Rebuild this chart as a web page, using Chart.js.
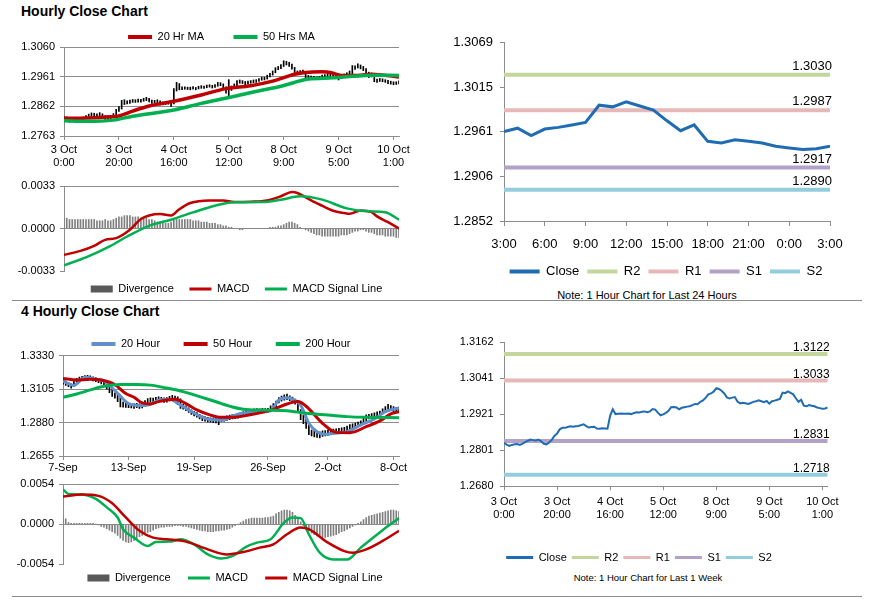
<!DOCTYPE html>
<html><head><meta charset="utf-8">
<script src="https://cdn.jsdelivr.net/npm/chart.js@4.4.1/dist/chart.umd.min.js"></script>
<style>
html,body{margin:0;padding:0;background:#fff;}
body{width:873px;height:601px;position:relative;overflow:hidden;font-family:"Liberation Sans",Arial,sans-serif;}
canvas{position:absolute;}
.ttl{position:absolute;left:21px;font-weight:bold;font-size:14px;line-height:14px;color:#000;white-space:nowrap;}
.sep{position:absolute;left:12px;width:850px;height:1px;background:#8c8c8c;}
.note{position:absolute;white-space:nowrap;color:#000;transform:translateX(-50%);line-height:14px;}
</style></head><body>
<div class="ttl" style="top:4px">Hourly Close Chart</div>
<div class="ttl" style="top:304px">4 Hourly Close Chart</div>
<div class="sep" style="top:300px"></div>
<div class="sep" style="top:596px"></div>
<div class="note" style="left:647px;top:288px;font-size:11px;">Note: 1 Hour Chart for Last 24 Hours</div>
<div class="note" style="left:648px;top:571px;font-size:9.5px;">Note: 1 Hour Chart for Last 1 Week</div>
<canvas id="cA" width="428" height="166" style="left:0;top:2px;width:428px;height:166px"></canvas>
<canvas id="cAm" width="459" height="133" style="left:0;top:172px;width:459px;height:133px"></canvas>
<canvas id="cB" width="450" height="260" style="left:430px;top:28px;width:450px;height:260px"></canvas>
<canvas id="cC" width="428" height="159" style="left:0;top:315px;width:428px;height:159px"></canvas>
<canvas id="cCm" width="456" height="122" style="left:0;top:472px;width:456px;height:122px"></canvas>
<canvas id="cD" width="443" height="245" style="left:430px;top:328px;width:443px;height:245px"></canvas>
<script>
// ---------------- DATA ----------------
const hourTickIdx = [0, 20, 40, 60, 80, 100, 120];
const hourTickLabels = [['3 Oct','0:00'],['3 Oct','20:00'],['4 Oct','16:00'],['5 Oct','12:00'],['8 Oct','9:00'],['9 Oct','5:00'],['10 Oct','1:00']];
const hourPriceTicks = [1.2763, 1.2862, 1.2961, 1.3060];
const hourMacdTicks = [-0.0033, 0.0000, 0.0033];

const hourlyClose = [
1.2825,1.2819,1.2815,1.2818,1.2820,1.2821,1.2818,1.2822,1.2827,1.2832,
1.2836,1.2834,1.2833,1.2836,1.2830,1.2822,1.2820,1.2826,1.2835,1.2848,
1.2856,1.2870,1.2875,1.2875,1.2878,1.2880,1.2879,1.2880,1.2881,1.2884,
1.2887,1.2881,1.2876,1.2878,1.2879,1.2873,1.2872,1.2874,1.2873,1.2872,
1.2915,1.2937,1.2921,1.2922,1.2923,1.2922,1.2922,1.2923,1.2921,1.2925,
1.2927,1.2926,1.2929,1.2930,1.2927,1.2930,1.2938,1.2936,1.2926,1.2917,
1.2920,1.2925,1.2932,1.2944,1.2945,1.2943,1.2937,1.2942,1.2944,1.2946,
1.2947,1.2951,1.2955,1.2954,1.2962,1.2967,1.2975,1.2987,1.2990,1.2996,
1.3008,1.3005,1.2999,1.2990,1.2977,1.2973,1.2976,1.2978,1.2963,1.2957,
1.2959,1.2957,1.2955,1.2958,1.2962,1.2964,1.2967,1.2964,1.2961,1.2965,
1.2956,1.2964,1.2966,1.2969,1.2972,1.2993,1.2991,1.2997,1.2992,1.2987,
1.2974,1.2962,1.2969,1.2949,1.2947,1.2951,1.2949,1.2947,1.2943,1.2941,
1.2939,1.2940,1.2943];
const hourlyHigh = [
1.2829,1.2827,1.2820,1.2822,1.2824,1.2825,1.2823,1.2826,1.2831,1.2836,
1.2840,1.2839,1.2837,1.2841,1.2837,1.2831,1.2825,1.2830,1.2838,1.2852,
1.2861,1.2882,1.2884,1.2880,1.2883,1.2885,1.2884,1.2886,1.2885,1.2889,
1.2892,1.2889,1.2883,1.2882,1.2884,1.2880,1.2877,1.2878,1.2877,1.2878,
1.2921,1.2942,1.2938,1.2927,1.2927,1.2926,1.2926,1.2928,1.2925,1.2929,
1.2931,1.2930,1.2933,1.2934,1.2932,1.2935,1.2942,1.2941,1.2937,1.2927,
1.2951,1.2930,1.2937,1.2948,1.2950,1.2948,1.2945,1.2946,1.2948,1.2950,
1.2951,1.2955,1.2959,1.2959,1.2966,1.2972,1.2980,1.2991,1.2995,1.3001,
1.3014,1.3012,1.3009,1.3003,1.2992,1.2980,1.2981,1.2983,1.2979,1.2965,
1.2963,1.2962,1.2960,1.2962,1.2966,1.2968,1.2971,1.2969,1.2966,1.2969,
1.2966,1.2968,1.2970,1.2974,1.2980,1.2998,1.2997,1.3004,1.3000,1.2995,
1.2988,1.2976,1.2973,1.2970,1.2953,1.2955,1.2954,1.2951,1.2949,1.2946,
1.2944,1.2944,1.2947];
const hourlyLow = [
1.2818,1.2815,1.2809,1.2813,1.2815,1.2817,1.2815,1.2817,1.2820,1.2826,
1.2830,1.2830,1.2829,1.2831,1.2827,1.2818,1.2816,1.2819,1.2825,1.2833,
1.2845,1.2853,1.2868,1.2870,1.2872,1.2875,1.2875,1.2876,1.2876,1.2879,
1.2881,1.2877,1.2872,1.2873,1.2874,1.2866,1.2867,1.2868,1.2869,1.2862,
1.2870,1.2913,1.2917,1.2918,1.2919,1.2918,1.2917,1.2919,1.2917,1.2920,
1.2922,1.2922,1.2924,1.2926,1.2923,1.2925,1.2929,1.2931,1.2921,1.2906,
1.2896,1.2915,1.2922,1.2930,1.2939,1.2938,1.2933,1.2936,1.2939,1.2941,
1.2942,1.2945,1.2949,1.2950,1.2953,1.2960,1.2966,1.2974,1.2984,1.2988,
1.2995,1.3000,1.2995,1.2986,1.2972,1.2968,1.2970,1.2972,1.2950,1.2952,
1.2953,1.2952,1.2951,1.2953,1.2956,1.2959,1.2961,1.2960,1.2956,1.2959,
1.2950,1.2955,1.2961,1.2964,1.2967,1.2971,1.2985,1.2990,1.2987,1.2981,
1.2970,1.2958,1.2960,1.2944,1.2942,1.2945,1.2944,1.2942,1.2938,1.2936,
1.2934,1.2935,1.2937];
const ma20Hr = [[0,1.2822],[8,1.2823],[17,1.2827],[20,1.2830],[25,1.2846],[31,1.2863],[40,1.2879],[50,1.2900],[59,1.2921],[68,1.2931],[76,1.2946],[84,1.2969],[88,1.2975],[94,1.2977],[97,1.2975],[101,1.2965],[108,1.2966],[112,1.2969],[122,1.2960]];
const ma50Hr = [[0,1.2814],[8,1.2812],[18,1.2816],[25,1.2829],[40,1.2850],[50,1.2872],[61,1.2893],[69,1.2910],[79,1.2929],[89,1.2953],[98,1.2957],[105,1.2962],[112,1.2966],[122,1.2965]];
const macdHr = [[0,-0.00205],[6,-0.00174],[11,-0.00135],[15,-0.00088],[19,-0.00075],[24,-0.0001],[28,0.00073],[31,0.00101],[35,0.00112],[39,0.00101],[42,0.0015],[46,0.00198],[53,0.00218],[58,0.00218],[62,0.00205],[68,0.00208],[74,0.00218],[79,0.0025],[83,0.00283],[85,0.00276],[90,0.00218],[94,0.00177],[98,0.00138],[102,0.0012],[104,0.00114],[108,0.0014],[112,0.00127],[114,0.00094],[118,0.00049],[122,0.0]];
const signalHr = [[0,-0.00286],[8,-0.00224],[17,-0.00135],[23,-0.00062],[31,0.00021],[39,0.00068],[47,0.00125],[55,0.00177],[62,0.00203],[72,0.00205],[79,0.00224],[86,0.0025],[94,0.00224],[103,0.00156],[111,0.00133],[117,0.00127],[122,0.00068]];
const divergenceHr = [
0.0008,0.0008,0.0007,0.0007,0.0007,0.0007,0.0007,0.0007,0.0007,0.0007,0.0007,0.0007,0.0006,0.0006,0.0006,0.0007,0.0006,0.0006,
0.0007,0.0008,0.0009,0.0009,0.0010,0.0010,0.0010,0.0009,0.0009,0.0009,0.0008,
0.0008,0.0008,0.0007,0.0007,0.0006,0.0005,
0.0005,0.0004,0.0004,0.0004,0.0005,0.0007,
0.0007,0.0007,0.0007,0.0007,0.0007,0.0007,0.0006,0.0006,0.0006,0.0005,
0.0005,0.0005,0.0004,0.0004,0.0004,0.0003,0.0003,0.0002,0.0002,0.0001,0.0001,
0.0000,0.0000,-0.0001,-0.0001,0.0000,0.0000,0.0000,0.0000,0.0000,0.0000,0.0000,0.0000,0.0000,0.0001,0.0001,0.0001,0.0002,0.0002,
0.0003,0.0004,0.0005,0.0005,0.0004,0.0003,0.0001,
0.0000,-0.0001,-0.0002,-0.0003,-0.0004,-0.0005,-0.0005,
-0.0006,-0.0006,-0.0006,-0.0006,-0.0006,-0.0006,-0.0006,-0.0005,-0.0005,-0.0005,
-0.0004,-0.0003,-0.0002,-0.0002,-0.0001,-0.0001,-0.0002,-0.0003,-0.0003,-0.0004,
-0.0005,-0.0005,-0.0005,-0.0006,-0.0006,-0.0006,-0.0006,-0.0007,-0.0007];

// last 24 hours (9 Oct 3:00 -> 10 Oct 3:00) is the tail of the hourly series
const dayStart = 98;
const dayTickIdx = [0, 3, 6, 9, 12, 15, 18, 21, 24];
const dayTickLabels = ['3:00','6:00','9:00','12:00','15:00','18:00','21:00','0:00','3:00'];
const dayPriceTicks = [1.2852, 1.2906, 1.2961, 1.3015, 1.3069];
const levelNames = ['R2', 'R1', 'S1', 'S2'];
const dayLevels = [1.3030, 1.2987, 1.2917, 1.2890];
const weekLevels = [1.3122, 1.3033, 1.2831, 1.2718];
const weekPriceTicks = [1.2680, 1.2801, 1.2921, 1.3041, 1.3162];

const h4TickIdx = [0, 24, 48, 75, 97, 121];
const h4TickLabels = ['7-Sep','13-Sep','19-Sep','26-Sep','2-Oct','8-Oct'];
const h4PriceTicks = [1.2655, 1.2880, 1.3105, 1.3330];
const h4MacdTicks = [-0.0054, 0.0000, 0.0054];
const h4High = [
1.3170,1.3160,1.3150,1.3140,1.3168,1.3178,1.3186,1.3192,1.3196,1.3198,
1.3194,1.3188,1.3182,1.3176,1.3168,1.3160,1.3150,1.3126,1.3104,1.3080,
1.3068,1.3050,1.3018,1.3014,1.3010,1.3008,1.3006,1.3010,1.3006,1.3012,
1.3028,1.3042,1.3046,1.3044,1.3050,1.3054,1.3050,1.3046,1.3048,1.3056,
1.3064,1.3058,1.3054,1.3040,1.3002,1.2992,1.2980,1.2966,1.2956,1.2948,
1.2936,1.2926,1.2920,1.2915,1.2912,1.2912,1.2910,1.2914,1.2918,1.2920,
1.2926,1.2930,1.2934,1.2936,1.2940,1.2946,1.2954,1.2960,1.2964,1.2968,
1.2972,1.2974,1.2972,1.2975,1.2974,1.2976,1.2992,1.3008,1.3024,1.3048,
1.3058,1.3066,1.3072,1.3060,1.3052,1.3038,1.3028,1.2968,1.2930,1.2906,
1.2880,1.2830,1.2824,1.2820,1.2818,1.2824,1.2826,1.2830,1.2832,1.2836,
1.2838,1.2842,1.2844,1.2848,1.2856,1.2866,1.2872,1.2876,1.2884,1.2892,
1.2908,1.2932,1.2936,1.2940,1.2946,1.2952,1.2958,1.2972,1.2988,1.3002,
1.2994,1.2988,1.2982,1.2984];
const h4Low = [
1.3138,1.3130,1.3122,1.3112,1.3124,1.3150,1.3158,1.3166,1.3170,1.3172,
1.3168,1.3160,1.3156,1.3148,1.3140,1.3128,1.3104,1.3082,1.3056,1.3044,
1.3020,1.2985,1.2984,1.2982,1.2980,1.2978,1.2976,1.2980,1.2976,1.2978,
1.2990,1.3008,1.3018,1.3016,1.3022,1.3024,1.3020,1.3016,1.3018,1.3026,
1.3032,1.3028,1.3000,1.2976,1.2970,1.2960,1.2948,1.2934,1.2924,1.2916,
1.2904,1.2892,1.2890,1.2884,1.2882,1.2880,1.2878,1.2866,1.2888,1.2890,
1.2895,1.2900,1.2904,1.2906,1.2910,1.2916,1.2926,1.2932,1.2936,1.2942,
1.2944,1.2946,1.2944,1.2946,1.2946,1.2948,1.2956,1.2972,1.2986,1.3012,
1.3024,1.3030,1.3034,1.3028,1.3018,1.3004,1.2960,1.2900,1.2872,1.2840,
1.2798,1.2790,1.2784,1.2780,1.2776,1.2786,1.2790,1.2794,1.2798,1.2802,
1.2806,1.2810,1.2812,1.2814,1.2820,1.2830,1.2838,1.2844,1.2850,1.2858,
1.2870,1.2890,1.2904,1.2908,1.2914,1.2920,1.2926,1.2938,1.2954,1.2968,
1.2960,1.2954,1.2948,1.2952];
const ma20H4 = [[0,1.3160],[4,1.3130],[8,1.3185],[12,1.3172],[15,1.3160],[20,1.3077],[24,1.3008],[29,1.2995],[32,1.3003],[35,1.3030],[39,1.3037],[42,1.3010],[46,1.2965],[50,1.2925],[54,1.2900],[59,1.2897],[62,1.2925],[68,1.2947],[76,1.2960],[79,1.3032],[82,1.3047],[84,1.3038],[87,1.2998],[90,1.2875],[93,1.2819],[96,1.2801],[99,1.2808],[104,1.2819],[109,1.2864],[114,1.2904],[118,1.2953],[123,1.2978]];
const ma50H4 = [[0,1.3177],[5,1.3166],[10,1.3171],[14,1.3166],[19,1.3135],[23,1.3075],[26,1.3050],[29,1.3012],[32,1.3005],[35,1.3021],[41,1.3037],[45,1.3008],[49,1.2965],[54,1.2930],[58,1.2915],[62,1.2915],[68,1.2931],[77,1.2969],[82,1.3005],[86,1.3021],[89,1.2990],[95,1.2875],[100,1.2814],[105,1.2812],[111,1.2852],[116,1.2891],[120,1.2938],[123,1.2953]];
const ma200H4 = [[0,1.3050],[5,1.3072],[10,1.3100],[15,1.3124],[21,1.3136],[27,1.3136],[32,1.3132],[38,1.3112],[44,1.3088],[50,1.3055],[56,1.3020],[62,1.2985],[66,1.2970],[73,1.2964],[82,1.2960],[89,1.2942],[97,1.2931],[104,1.2920],[111,1.2915],[123,1.2913]];
const macdH4 = [[0,0.00466],[2,0.00407],[7,0.00398],[12,0.00339],[16,0.00226],[20,0.0009],[22,-0.00068],[26,-0.00181],[31,-0.00294],[34,-0.0024],[39,-0.00235],[43,-0.00203],[48,-0.00271],[53,-0.00407],[58,-0.00461],[62,-0.0043],[67,-0.00307],[71,-0.00249],[76,-0.00203],[81,0.00023],[84,0.0009],[87,0.00081],[90,-0.00136],[94,-0.00384],[99,-0.00475],[104,-0.00475],[109,-0.00316],[112,-0.00226],[117,-0.00081],[123,0.00081]];
const signalH4 = [[0,0.00371],[7,0.00398],[13,0.0038],[18,0.0028],[23,0.0009],[28,-0.0009],[33,-0.00181],[38,-0.00203],[45,-0.00235],[53,-0.00339],[60,-0.00407],[66,-0.00375],[72,-0.00316],[77,-0.00271],[82,-0.00136],[87,-0.00045],[90,-0.00068],[97,-0.00249],[103,-0.00362],[106,-0.00384],[111,-0.00339],[117,-0.00226],[123,-0.0009]];
const divergenceH4 = [
0.0010,0.0007,0.0002,0.0001,0.0001,0.0001,0.0001,0.0001,0.0001,0.0001,0.0001,0.0001,
0.0000,-0.0001,-0.0003,-0.0004,-0.0006,-0.0008,-0.0010,-0.0012,-0.0015,-0.0019,-0.0022,-0.0024,-0.0025,-0.0024,-0.0022,-0.0020,-0.0017,-0.0015,
-0.0013,-0.0011,-0.0010,-0.0008,-0.0006,-0.0005,-0.0004,-0.0004,-0.0003,-0.0003,-0.0003,-0.0002,-0.0002,-0.0002,-0.0003,-0.0003,-0.0004,-0.0005,
-0.0006,-0.0007,-0.0008,-0.0009,-0.0009,-0.0010,-0.0010,-0.0010,-0.0009,-0.0009,-0.0008,-0.0008,-0.0007,-0.0006,-0.0004,-0.0002,0.0000,0.0002,
0.0004,0.0006,0.0007,0.0008,0.0008,0.0008,0.0008,0.0008,0.0009,0.0009,0.0010,0.0011,0.0014,0.0016,0.0018,0.0019,0.0019,0.0018,0.0016,0.0012,
0.0008,0.0003,-0.0002,-0.0006,-0.0009,-0.0012,-0.0014,-0.0016,-0.0017,-0.0018,-0.0018,-0.0017,-0.0016,-0.0015,-0.0014,-0.0012,-0.0010,-0.0009,
-0.0007,-0.0005,-0.0003,-0.0001,0.0001,0.0003,0.0006,0.0009,0.0011,0.0012,0.0013,0.0014,0.0015,0.0016,0.0017,0.0018,0.0019,0.0019,0.0018,0.0017];

// ---------------- STYLE / HELPERS ----------------
Chart.defaults.font.family = '"Liberation Sans", Arial, sans-serif';
Chart.defaults.font.size = 11;
Chart.defaults.color = '#000';
Chart.defaults.animation = false;
Chart.defaults.responsive = false;
Chart.defaults.plugins.tooltip.enabled = false;
Chart.defaults.devicePixelRatio = 1;

const GRID = '#8c8c8c';
const RED = '#c00000', GREEN = '#00b050', BLUE20 = '#6190cb', CLOSE = '#1f6cb3', DIV = '#7f7f7f', DIVBOX = '#595959';
const LEVEL_COLORS = ['#c3d69b', '#e6b9b8', '#b3a2c7', '#93cddd'];

const toPts = pairs => pairs.map(([x, y]) => ({ x, y }));
const toSeries = arr => arr.map((y, x) => ({ x, y }));

function xAxis(n, tickIdx, tickLabels, o) {
  return {
    type: 'linear', min: 0, max: n - 1, offset: false, display: o.display !== false,
    afterBuildTicks: s => { s.ticks = tickIdx.map(v => ({ value: v })); },
    afterFit: s => { if (o.height != null) s.height = o.height; },
    ticks: { autoSkip: false, maxRotation: 0, minRotation: 0, padding: o.pad || 3, font: o.font, callback: (v, i) => tickLabels[i] },
    grid: { drawOnChartArea: false, tickLength: o.tl || 4, color: GRID, offset: false },
    border: { color: GRID }
  };
}
function yAxis(tickVals, o) {
  const hideMin = !!o.hideMinGrid;
  return {
    type: 'linear', min: tickVals[0], max: tickVals[tickVals.length - 1],
    afterBuildTicks: s => { s.ticks = tickVals.map(v => ({ value: v })); },
    afterFit: s => { s.width = o.width; },
    ticks: { padding: o.pad, font: o.font, callback: v => v.toFixed(4) },
    grid: { drawOnChartArea: !!o.grid, tickLength: 4, tickColor: GRID,
            color: c => (hideMin && c.tick && c.tick.value === tickVals[0]) ? 'rgba(0,0,0,0)' : GRID },
    border: { color: GRID }
  };
}
function spacer(w) {
  return { type: 'linear', position: 'right', display: true, afterFit: s => { s.width = w; },
           ticks: { display: false }, grid: { display: false }, border: { display: false } };
}
function legend(o) {
  return {
    display: true, position: o.position, maxHeight: o.maxHeight,
    labels: {
      usePointStyle: true, pointStyleWidth: o.boxW, boxHeight: o.boxH || 7, padding: o.pad,
      font: o.font || { size: 11 }, color: '#000',
      sort: (a, b) => a.datasetIndex - b.datasetIndex,
      filter: (item, data) => data.datasets[item.datasetIndex].inLegend !== false,
      generateLabels: chart => Chart.defaults.plugins.legend.labels.generateLabels(chart).map(it => {
        const ds = chart.data.datasets[it.datasetIndex];
        const box = ds.type === 'bar';
        it.pointStyle = box ? 'rect' : 'line';
        it.lineWidth = box ? 0 : o.lineW;
        it.strokeStyle = ds.borderColor;
        it.fillStyle = box ? ds.legendColor : ds.borderColor;
        it.rotation = 0;
        if (o.padText && it.datasetIndex < chart.data.datasets.length - 1) it.text = it.text + o.padText;
        return it;
      })
    }
  };
}
const levelLabelPlugin = {
  id: 'levelLabels',
  afterDatasetsDraw(chart, args, opts) {
    if (!opts || !opts.font) return;
    const { ctx, chartArea } = chart;
    const y = chart.scales.y;
    ctx.save();
    ctx.font = opts.font; ctx.fillStyle = '#000'; ctx.textAlign = 'right'; ctx.textBaseline = 'alphabetic';
    chart.data.datasets.forEach(ds => {
      if (!ds.isLevel) return;
      const v = ds.data[0].y;
      ctx.fillText(v.toFixed(4), chartArea.right + opts.dx, y.getPixelForValue(v) - opts.dy);
    });
    ctx.restore();
  }
};
Chart.register(levelLabelPlugin);

function lineDs(label, pairs, color, width, order) {
  return { type: 'line', label, data: toPts(pairs), borderColor: color, backgroundColor: color, borderWidth: width,
           pointRadius: 0, tension: 0.4, cubicInterpolationMode: 'monotone', order };
}
function levelSets(levels, n) {
  return levels.map((v, k) => ({ type: 'line', label: levelNames[k], isLevel: true,
    data: [{ x: 0, y: v }, { x: n - 1, y: v }], borderColor: LEVEL_COLORS[k], backgroundColor: LEVEL_COLORS[k],
    borderWidth: 4, pointRadius: 0 }));
}

// ---------------- A: hourly price ----------------
const nH = hourlyClose.length;
new Chart(document.getElementById('cA'), {
  type: 'line',
  data: { datasets: [
    lineDs('20 Hr MA', ma20Hr, RED, 3.5, 2),
    lineDs('50 Hrs MA', ma50Hr, GREEN, 3.5, 1),
    { type: 'bar', label: 'OHLC', inLegend: false, order: 3, data: hourlyLow.map((l, i) => ({ x: i, y: [l, hourlyHigh[i]] })),
      backgroundColor: '#000', borderColor: '#000', barThickness: 1, grouped: false }
  ]},
  options: {
    layout: { padding: { left: 15, right: 0, top: 0, bottom: 0 } },
    plugins: { legend: legend({ position: 'top', pad: 29.5, maxHeight: 45, boxW: 24, lineW: 4 }) },
    scales: {
      x: xAxis(nH, hourTickIdx, hourTickLabels, { height: 32, pad: 3 }),
      y: yAxis(hourPriceTicks, { width: 49, pad: 5, grid: true }),
      yR: spacer(29)
    }
  }
});

// ---------------- A2: hourly MACD ----------------
new Chart(document.getElementById('cAm'), {
  type: 'line',
  data: { datasets: [
    { type: 'bar', label: 'Divergence', order: 3, data: toSeries(divergenceHr), backgroundColor: DIV, borderColor: DIV, legendColor: DIVBOX, barThickness: 1, grouped: false },
    lineDs('MACD', macdHr, RED, 2.5, 2),
    lineDs('MACD Signal Line', signalHr, GREEN, 2.5, 1)
  ]},
  options: {
    layout: { padding: { left: 14, right: 0, top: 14, bottom: 0.5 } },
    plugins: { legend: legend({ position: 'bottom', pad: 12.5, boxW: 22, boxH: 7, lineW: 3, padText: ' ' }) },
    scales: {
      x: xAxis(nH, hourTickIdx, hourTickLabels, { display: false }),
      y: yAxis(hourMacdTicks, { width: 50, pad: 5, grid: true, hideMinGrid: true }),
      yR: spacer(60)
    }
  }
});

// ---------------- B: last 24 hours ----------------
const dayClose = hourlyClose.slice(dayStart);
const nD = dayClose.length;
new Chart(document.getElementById('cB'), {
  type: 'line',
  data: { datasets: [
    { type: 'line', label: 'Close', data: toSeries(dayClose), borderColor: CLOSE, backgroundColor: CLOSE, borderWidth: 3, pointRadius: 0, tension: 0 },
    ...levelSets(dayLevels, nD)
  ]},
  options: {
    layout: { padding: { left: 22, right: 0, top: 14, bottom: 0 } },
    plugins: {
      legend: legend({ position: 'bottom', pad: 8, boxW: 30, lineW: 4, font: { size: 13 } }),
      levelLabels: { font: '13px "Liberation Sans", Arial, sans-serif', dx: 2, dy: 5 }
    },
    scales: {
      x: xAxis(nD, dayTickIdx, dayTickLabels, { height: 36, pad: 11, tl: 5, font: { size: 13 } }),
      y: yAxis(dayPriceTicks, { width: 52, pad: 7, grid: false, font: { size: 13 } }),
      yR: spacer(50)
    }
  }
});

// ---------------- C: 4 hourly price ----------------
const n4 = h4High.length;
new Chart(document.getElementById('cC'), {
  type: 'line',
  data: { datasets: [
    lineDs('20 Hour', ma20H4, BLUE20, 3, 3),
    lineDs('50 Hour', ma50H4, RED, 3, 2),
    lineDs('200 Hour', ma200H4, GREEN, 3, 1),
    { type: 'bar', label: 'OHLC', inLegend: false, order: 4, data: h4Low.map((l, i) => ({ x: i, y: [l, h4High[i]] })),
      backgroundColor: '#000', borderColor: '#000', barThickness: 1, grouped: false }
  ]},
  options: {
    layout: { padding: { left: 14, right: 0, top: 0, bottom: 0 } },
    plugins: { legend: legend({ position: 'top', pad: 23.5, maxHeight: 40.7, boxW: 24, lineW: 4 }) },
    scales: {
      x: xAxis(n4, h4TickIdx, h4TickLabels, { height: 18, pad: 1 }),
      y: yAxis(h4PriceTicks, { width: 49, pad: 5, grid: true }),
      yR: spacer(29)
    }
  }
});

// ---------------- C2: 4 hourly MACD ----------------
new Chart(document.getElementById('cCm'), {
  type: 'line',
  data: { datasets: [
    { type: 'bar', label: 'Divergence', order: 3, data: toSeries(divergenceH4), backgroundColor: DIV, borderColor: DIV, legendColor: DIVBOX, barThickness: 1, grouped: false },
    lineDs('MACD', macdH4, GREEN, 2.5, 2),
    lineDs('MACD Signal Line', signalH4, RED, 2.5, 1)
  ]},
  options: {
    layout: { padding: { left: 14, right: 0, top: 12, bottom: 0.5 } },
    plugins: { legend: legend({ position: 'bottom', pad: 8.2, boxW: 22, boxH: 7, lineW: 3, padText: '   ' }) },
    scales: {
      x: xAxis(n4, h4TickIdx, h4TickLabels, { display: false }),
      y: yAxis(h4MacdTicks, { width: 49, pad: 5, grid: true, hideMinGrid: true }),
      yR: spacer(57)
    }
  }
});

// ---------------- D: last 1 week hourly ----------------
new Chart(document.getElementById('cD'), {
  type: 'line',
  data: { datasets: [
    { type: 'line', label: 'Close', data: toSeries(hourlyClose), borderColor: CLOSE, backgroundColor: CLOSE, borderWidth: 2, pointRadius: 0, tension: 0 },
    ...levelSets(weekLevels, nH)
  ]},
  options: {
    layout: { padding: { left: 0, right: 25, top: 14, bottom: 0 } },
    plugins: {
      legend: legend({ position: 'bottom', pad: 5, boxW: 27, lineW: 3 }),
      levelLabels: { font: '12px "Liberation Sans", Arial, sans-serif', dx: 2, dy: 3 }
    },
    scales: {
      x: xAxis(nH, hourTickIdx, hourTickLabels, { height: 60.8, pad: 5 }),
      y: yAxis(weekPriceTicks, { width: 74, pad: 6.5, grid: false }),
      yR: spacer(20.3)
    }
  }
});
</script>
</body></html>
